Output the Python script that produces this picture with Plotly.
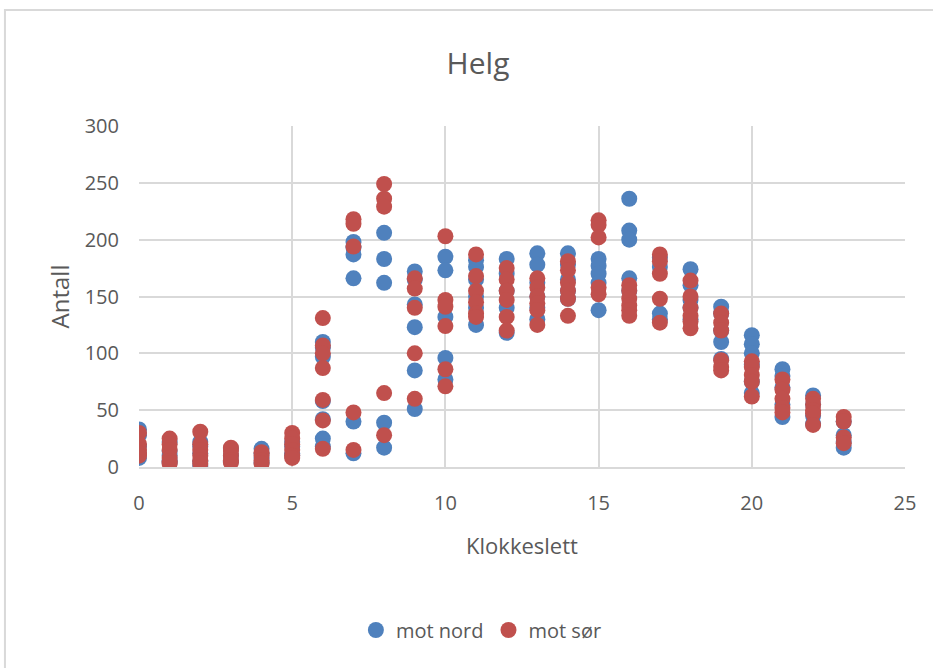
import plotly.graph_objects as go

# Hourly counts per direction (weekend days), hour of day 0-23
nord_by_hour = {
    0: [33, 28, 18, 12, 8],
    1: [22, 14, 10, 6, 4],
    2: [22, 18, 12, 5, 1],
    3: [16, 10, 5],
    4: [16, 12, 8, 4],
    5: [22, 18, 12, 10],
    6: [110, 105, 97, 58, 42, 25, 18],
    7: [198, 193, 187, 166, 40, 12],
    8: [206, 183, 162, 39, 17],
    9: [172, 165, 143, 123, 85, 51],
    10: [185, 173, 132, 96, 77],
    11: [182, 176, 165, 150, 140, 125],
    12: [183, 170, 155, 140, 118],
    13: [188, 178, 162, 150, 140, 130],
    14: [188, 178, 165, 155, 148],
    15: [183, 177, 170, 162, 138],
    16: [236, 208, 200, 166, 155],
    17: [184, 176, 135, 130],
    18: [174, 160, 147, 140, 130],
    19: [141, 135, 120, 110, 95],
    20: [116, 108, 100, 90, 75, 65],
    21: [86, 80, 70, 55, 44],
    22: [63, 55, 45, 38],
    23: [40, 28, 22, 17],
}

sor_by_hour = {
    0: [30, 20, 15, 12, 10],
    1: [25, 20, 15, 8, 5, 3],
    2: [31, 20, 15, 10, 6, 3],
    3: [17, 14, 10, 6, 4],
    4: [13, 10, 6, 3],
    5: [30, 25, 20, 15, 10, 8],
    6: [131, 107, 100, 87, 59, 41, 16],
    7: [218, 214, 194, 48, 15],
    8: [249, 236, 229, 65, 28],
    9: [166, 157, 140, 100, 60],
    10: [203, 147, 141, 124, 86, 71],
    11: [187, 168, 155, 145, 135, 132],
    12: [175, 165, 155, 147, 132, 120],
    13: [166, 158, 150, 144, 138, 125],
    14: [181, 173, 162, 155, 148, 133],
    15: [217, 213, 202, 158, 152],
    16: [160, 155, 148, 142, 138, 133],
    17: [187, 181, 170, 148, 127],
    18: [164, 150, 140, 133, 128, 122],
    19: [135, 127, 120, 94, 88, 85],
    20: [93, 88, 81, 75, 62],
    21: [77, 68, 60, 52, 48],
    22: [60, 55, 50, 47, 37],
    23: [44, 40, 26, 21],
}

x_ticks = [0, 5, 10, 15, 20, 25]
y_ticks = [0, 50, 100, 150, 200, 250, 300]

nord_hours, nord_counts = [], []
sor_hours, sor_counts = [], []
for h, vals in nord_by_hour.items():
    nord_hours += [h] * len(vals)
    nord_counts += vals
for h, vals in sor_by_hour.items():
    sor_hours += [h] * len(vals)
    sor_counts += vals

BLUE = "#4F81BD"
RED = "#C0504D"
TEXT = "#595959"
GRID = "#D9D9D9"
FONT = "Open Sans, Liberation Sans, sans-serif"

fig = go.Figure()
fig.add_trace(go.Scatter(
    x=nord_hours, y=nord_counts, mode="markers", name="mot nord",
    marker=dict(color=BLUE, size=16, line=dict(width=0)),
))
fig.add_trace(go.Scatter(
    x=sor_hours, y=sor_counts, mode="markers", name="mot sør",
    marker=dict(color=RED, size=16, line=dict(width=0)),
))

# outer chart frame
fig.add_shape(type="rect", xref="paper", yref="paper",
              x0=-0.175, x1=1.2, y0=-0.8, y1=1.34,
              line=dict(color="#D9D9D9", width=2), layer="below")

fig.update_layout(
    width=933, height=668,
    margin=dict(l=139, r=28, t=126, b=201),
    paper_bgcolor="white", plot_bgcolor="white",
    font=dict(family=FONT, color=TEXT, size=20),
    title=dict(text="Helg", x=0.4426, xref="paper", xanchor="center",
               y=1 - 63 / 668, yanchor="middle",
               font=dict(family=FONT, size=30, color=TEXT)),
    showlegend=True,
    legend=dict(orientation="h", x=0.447, xanchor="center", y=-0.478, yanchor="middle",
                font=dict(size=20, color=TEXT), itemsizing="trace",
                traceorder="normal", itemwidth=30),
    xaxis=dict(range=[0, 25], tickvals=x_ticks, showgrid=True, gridcolor=GRID, gridwidth=2,
               zeroline=False, showline=True, linecolor=GRID, linewidth=2,
               ticks="", ticklabelstandoff=17,
               title=dict(text="Klokkeslett", standoff=24, font=dict(size=22, color=TEXT))),
    yaxis=dict(range=[0, 300], tickvals=y_ticks, showgrid=True, gridcolor=GRID, gridwidth=2,
               zeroline=False, showline=False,
               ticks="", ticklabelstandoff=19,
               title=dict(text="Antall", standoff=8, font=dict(size=24, color=TEXT))),
)

fig.write_html("out.html")
